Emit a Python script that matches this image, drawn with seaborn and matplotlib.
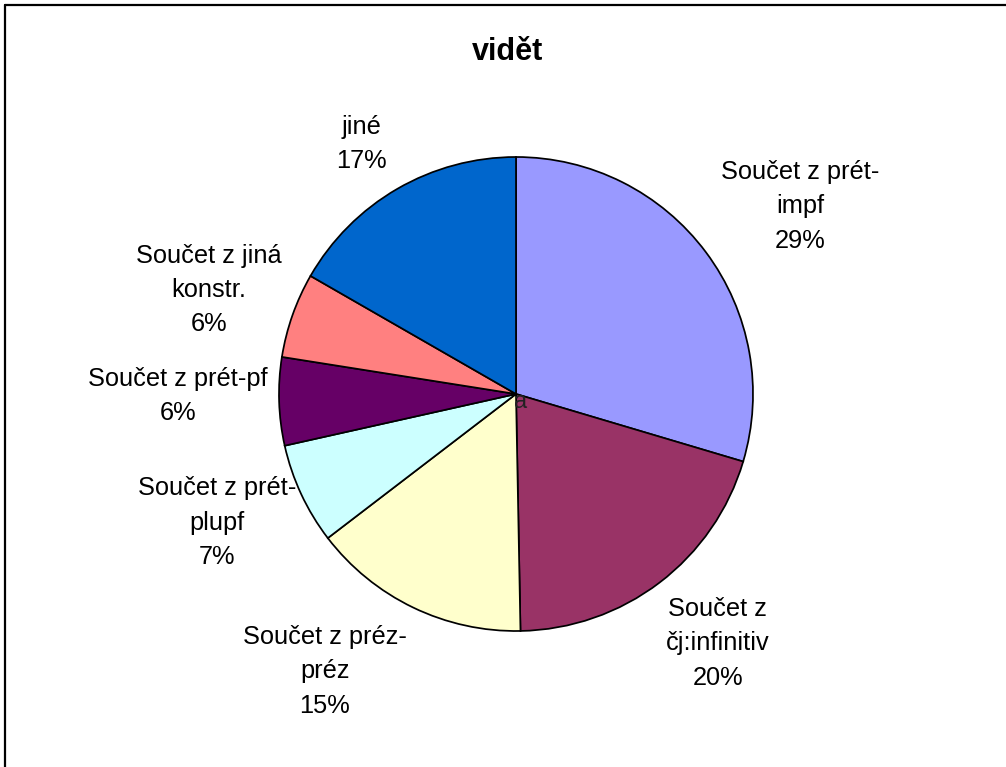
import matplotlib
matplotlib.use("Agg")
import matplotlib.pyplot as plt
import seaborn as sns

# Data
categories = ["Součet z prét-\nimpf", "Součet z\nčj:infinitiv", "Součet z préz-\npréz",
              "Součet z prét-\nplupf", "Součet z prét-pf", "Součet z jiná\nkonstr.", "jiné"]
shares = [29.6, 20.1, 14.9, 6.9, 6.0, 5.8, 16.7]
percent_labels = ["29%", "20%", "15%", "7%", "6%", "6%", "17%"]
title = "vidět"

# Style / layout
colors = ["#9999FF", "#993366", "#FFFFCC", "#CCFFFF", "#660066", "#FF8080", "#0066CC"]
label_offsets = [(1.198, 0.793), (0.852, -1.051), (-0.806, -1.169), (-1.262, -0.544),
                 (-1.426, -0.008), (-1.295, 0.439), (-0.654, 1.055)]

sns.set_theme(style="white")
plt.rcParams['font.family'] = ['Liberation Sans', 'DejaVu Sans']

fig = plt.figure(figsize=(10.06, 7.67), dpi=100)
fig.patch.set_facecolor("white")

# border (top and left visible)
fig.add_artist(plt.Line2D([4.5/1006, 4.5/1006], [0, 1 - 4.5/767], transform=fig.transFigure,
                          color="black", lw=1.6))
fig.add_artist(plt.Line2D([4.5/1006, 1], [1 - 4.5/767, 1 - 4.5/767], transform=fig.transFigure,
                          color="black", lw=1.6))

cx, cy, r = 516, 394, 237
ax = fig.add_axes([(cx - r)/1006, (767 - cy - r)/767, 2*r/1006, 2*r/767])
wedges, _ = ax.pie(shares, colors=colors, startangle=90, counterclock=False,
                   wedgeprops=dict(edgecolor="black", linewidth=1.25))
for cat, pl, (dx, dy) in zip(categories, percent_labels, label_offsets):
    ax.text(dx, dy, f"{cat}\n{pl}", fontsize=18.3, color="black", linespacing=1.55,
            ha="center", va="center")
ax.set_xlim(-1.0, 1.0)
ax.set_ylim(-1.0, 1.0)
ax.set_aspect("equal")
ax.axis("off")

ax.text(0.021, -0.034, "a", fontsize=17, ha="center", va="center", color="#222222")

fig.text(508/1006, 1 - 52/767, title, fontsize=22, fontweight="bold", color="black",
         ha="center", va="center")

fig.savefig("out.png", dpi=100)
